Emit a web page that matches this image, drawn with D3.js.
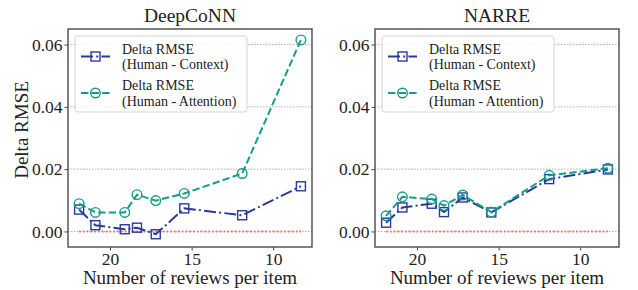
<!DOCTYPE html>
<html>
<head>
<meta charset="utf-8">
<script src="https://cdn.jsdelivr.net/npm/d3@7"></script>
<style>
  body { margin: 0; background: #fff; }
</style>
</head>
<body>
<svg id="chart" width="638" height="290"></svg>
<script>
// number of reviews per item (x), shared by both panels
const reviewsPerItem = [21.9, 20.9, 19.1, 18.35, 17.2, 15.45, 11.9, 8.3];

const deepconnContext   = [0.0070, 0.0020, 0.0007, 0.0012, -0.0009, 0.0074, 0.0052, 0.0145];
const deepconnAttention = [0.0089, 0.0061, 0.0061, 0.0118, 0.0099, 0.0122, 0.0186, 0.0615];
const narreContext      = [0.0028, 0.0077, 0.0089, 0.0062, 0.0109, 0.0061, 0.0168, 0.0199];
const narreAttention    = [0.0050, 0.0111, 0.0104, 0.0083, 0.0117, 0.0062, 0.0180, 0.0203];
const baseline          = [0, 0, 0, 0, 0, 0, 0, 0];

const panelTitles = ["DeepCoNN", "NARRE"];
const xTicks = [20, 15, 10];
const yTicks = [0, 0.02, 0.04, 0.06];
const yDomain = [-0.005, 0.065];
const legendLabels = [
  ["Delta RMSE", "(Human - Context)"],
  ["Delta RMSE", "(Human - Attention)"]
];

const blue = "#2a3a9c";
const teal = "#169b8a";
const red = "#ec6a50";
const serif = "'Liberation Serif', 'Times New Roman', 'DejaVu Serif', serif";

const svg = d3.select("#chart");

const panels = [
  { title: panelTitles[0], left: 68, context: deepconnContext, attention: deepconnAttention, ylabel: true },
  { title: panelTitles[1], left: 375, context: narreContext, attention: narreAttention, ylabel: false }
];

const axTop = 29, height = 218, width = 244;

const drawPanel = (p) => {
  const g = svg.append("g").attr("transform", `translate(${p.left},${axTop})`);

  const xMin = d3.min(reviewsPerItem), xMax = d3.max(reviewsPerItem);
  const pad = (xMax - xMin) * 0.05;
  const x = d3.scaleLinear().domain([xMax + pad, xMin - pad]).range([0, width]);
  const y = d3.scaleLinear().domain(yDomain).range([height, 0]);

  /////////////////////////////////////////////////////////
  // GRID

  g.selectAll("line.grid").data(yTicks).enter().append("line")
    .attr("class", "grid")
    .attr("x1", 0).attr("x2", width)
    .attr("y1", d => y(d)).attr("y2", d => y(d))
    .attr("stroke", "#b0b0b0")
    .attr("stroke-width", 1)
    .attr("stroke-dasharray", "1.5,1.5");

  /////////////////////////////////////////////////////////
  // AXES

  const xAxis = g.append("g")
    .attr("transform", `translate(0,${height})`)
    .call(d3.axisBottom(x).tickValues(xTicks).tickSize(3.5).tickPadding(2).tickFormat(d3.format("d")));
  xAxis.select(".domain").remove();
  xAxis.selectAll("line").attr("stroke", "#444");
  xAxis.selectAll("text")
    .style("font-family", serif).style("font-size", "17.5px").attr("fill", "#222");

  const yAxis = g.append("g")
    .call(d3.axisLeft(y).tickValues(yTicks).tickSize(3.5).tickPadding(2).tickFormat(d3.format(".2f")));
  yAxis.select(".domain").remove();
  yAxis.selectAll("line").attr("stroke", "#444");
  yAxis.selectAll("text")
    .style("font-family", serif).style("font-size", "17.5px").attr("fill", "#222");

  /////////////////////////////////////////////////////////
  // SERIES

  const line = d3.line().x((d, i) => x(reviewsPerItem[i])).y(d => y(d));

  g.append("path").datum(baseline)
    .attr("d", line)
    .attr("fill", "none")
    .attr("stroke", red)
    .attr("stroke-width", 2)
    .attr("stroke-dasharray", "1.6,2.2")
    .attr("opacity", 0.9);

  g.append("path").datum(p.context)
    .attr("d", line)
    .attr("fill", "none")
    .attr("stroke", blue)
    .attr("stroke-width", 2)
    .attr("stroke-dasharray", "12,3.2,2,3.2");

  g.selectAll("rect.ctx").data(p.context).enter().append("rect")
    .attr("class", "ctx")
    .attr("x", (d, i) => x(reviewsPerItem[i]) - 4.5)
    .attr("y", d => y(d) - 4.5)
    .attr("width", 9).attr("height", 9)
    .attr("fill", "none")
    .attr("stroke", blue)
    .attr("stroke-width", 1.4);

  g.append("path").datum(p.attention)
    .attr("d", line)
    .attr("fill", "none")
    .attr("stroke", teal)
    .attr("stroke-width", 2)
    .attr("stroke-dasharray", "7.4,3.2");

  g.selectAll("circle.att").data(p.attention).enter().append("circle")
    .attr("class", "att")
    .attr("cx", (d, i) => x(reviewsPerItem[i]))
    .attr("cy", d => y(d))
    .attr("r", 4.8)
    .attr("fill", "none")
    .attr("stroke", teal)
    .attr("stroke-width", 1.4);

  // frame
  g.append("rect")
    .attr("width", width).attr("height", height)
    .attr("fill", "none")
    .attr("stroke", "#555")
    .attr("stroke-width", 1.5);

  /////////////////////////////////////////////////////////
  // LEGEND

  const lg = g.append("g").attr("transform", "translate(7,7)");
  lg.append("rect")
    .attr("width", 172).attr("height", 76)
    .attr("rx", 3)
    .attr("fill", "#fff").attr("fill-opacity", 0.85)
    .attr("stroke", "#d4d4d4");

  const entries = [
    { color: blue, dash: "12,3.2,2,3.2", marker: "square", cy: 20.5 },
    { color: teal, dash: "7.4,3.2", marker: "circle", cy: 57 }
  ];

  entries.forEach((e, i) => {
    lg.append("line")
      .attr("x1", 6).attr("x2", 35)
      .attr("y1", e.cy).attr("y2", e.cy)
      .attr("stroke", e.color)
      .attr("stroke-width", 2)
      .attr("stroke-dasharray", e.dash);
    if (e.marker === "square") {
      lg.append("rect")
        .attr("x", 20.5 - 4.5).attr("y", e.cy - 4.5)
        .attr("width", 9).attr("height", 9)
        .attr("fill", "none").attr("stroke", e.color).attr("stroke-width", 1.4);
    } else {
      lg.append("circle")
        .attr("cx", 20.5).attr("cy", e.cy).attr("r", 4.8)
        .attr("fill", "none").attr("stroke", e.color).attr("stroke-width", 1.4);
    }
    const t = lg.append("text")
      .attr("x", 47)
      .attr("y", e.cy - 3)
      .style("font-family", serif)
      .style("font-size", "14px")
      .attr("fill", "#222");
    t.append("tspan").attr("x", 47).attr("dy", 0).text(legendLabels[i][0]);
    t.append("tspan").attr("x", 47).attr("dy", 15.8).text(legendLabels[i][1]);
  });

  /////////////////////////////////////////////////////////
  // LABELS

  g.append("text")
    .attr("x", width / 2).attr("y", -7)
    .attr("text-anchor", "middle")
    .style("font-family", serif)
    .style("font-size", "19.5px")
    .attr("fill", "#222")
    .text(p.title);

  g.append("text")
    .attr("x", width / 2).attr("y", height + 37)
    .attr("text-anchor", "middle")
    .style("font-family", serif)
    .style("font-size", "19px")
    .attr("fill", "#222")
    .text("Number of reviews per item");

  if (p.ylabel) {
    g.append("text")
      .attr("transform", `translate(${-40},${height / 2 - 8}) rotate(-90)`)
      .attr("text-anchor", "middle")
      .style("font-family", serif)
      .style("font-size", "19px")
      .attr("fill", "#222")
      .text("Delta RMSE");
  }
};

panels.forEach(drawPanel);
</script>
</body>
</html>
